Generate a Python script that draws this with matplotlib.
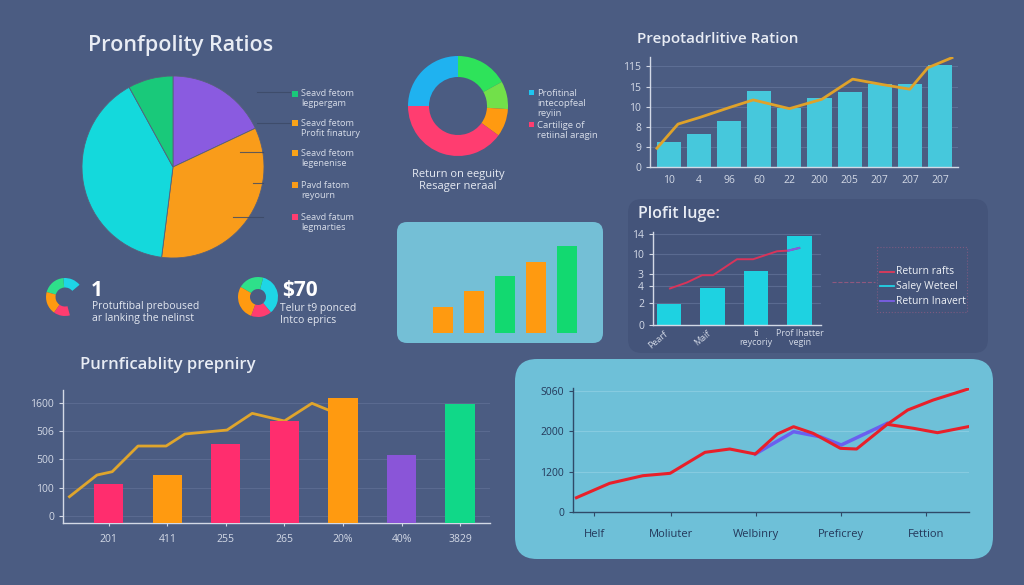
import matplotlib
matplotlib.use('Agg')
import matplotlib.pyplot as plt
from matplotlib.patches import FancyBboxPatch, Rectangle

plt.rcParams['font.family'] = ['Open Sans', 'DejaVu Sans']

W, H = 1024, 585
BG = '#4b5c82'
TXT = '#e8ecf4'
TICK = '#d3d9e6'

# ---------------- data ----------------
pie_values = [18, 34, 40, 8]
pie_colors = ['#8a5be0', '#f99c1a', '#14d9dc', '#19c97a']
pie_legend_labels = ['Seavd fetom\nlegpergam', 'Seavd fetom\nProfit finatury',
                     'Seavd fetom\nlegenenise', 'Pavd fatom\nreyourn', 'Seavd fatum\nlegmarties']
pie_legend_colors = ['#19c97a', '#f9a41a', '#f9a41a', '#f99c1a', '#ff3d70']

donut_values = [17, 9, 9, 40, 25]
donut_colors = ['#2ee35a', '#72e04a', '#ff9a10', '#ff3d70', '#1fb2f0']
donut_legend_labels = ['Profitinal\nintecopfeal\nreyiin', 'Cartilige of\nretiinal aragin']
donut_legend_colors = ['#1fc6f0', '#ff3d70']

ratio_labels = ['10', '4', '96', '60', '22', '200', '205', '207', '207', '207']
ratio_bars = [3.7, 4.9, 6.8, 11.4, 8.8, 10.35, 11.2, 12.4, 12.3, 15.2]
ratio_line_x = [-0.4, 0.3, 1.03, 2.03, 2.8, 4.0, 5.08, 6.1, 7.08, 8.0, 8.6, 9.4]
ratio_line_y = [2.8, 6.4, 7.4, 8.9, 10.0, 8.7, 10.1, 13.1, 12.3, 11.6, 14.8, 16.3]
ratio_yticks = [0, 3, 6, 9, 12, 15]
ratio_yticklabels = ['0', '9', '8', '10', '15', '115']

profit_labels = ['Pearf', 'Maif', 'ti\nreycoriy', 'Prof lhatter\nvegin']
profit_bars = [3.1, 5.6, 8.1, 13.4]
profit_line_x = [0.02, 0.41, 0.76, 1.01, 1.56, 1.93, 2.48, 2.74, 2.99]
profit_line_y = [5.5, 6.4, 7.5, 7.5, 9.9, 9.9, 11.1, 11.2, 11.6]
profit_yticks = [0, 3.3, 5.9, 7.7, 10.7, 13.7]
profit_yticklabels = ['0', '2', '4', '3', '10', '14']
profit_legend_labels = ['Return rafts', 'Saley Weteel', 'Return Inavert']
profit_legend_colors = ['#e03a5a', '#22d3e6', '#7b5ee6']

mini_values = [26, 42, 57, 71, 87]
mini_colors = ['#ff9a10', '#ff9a10', '#12d970', '#ff9a10', '#12d970']

purn_labels = ['201', '411', '255', '265', '20%', '40%', '3829']
purn_bars = [551, 678, 1117, 1442, 1767, 961, 1682]
purn_colors = ['#ff2d6e', '#ff9a10', '#ff2d6e', '#ff2d6e', '#ff9a10', '#8a55d8', '#10d888']
purn_line_x = [-0.67, -0.2, 0.06, 0.5, 0.98, 1.3, 2.02, 2.45, 3.0, 3.47, 3.78]
purn_line_y = [372, 678, 725, 1088, 1088, 1258, 1314, 1550, 1442, 1692, 1587]
purn_yticks = [100, 500, 900, 1300, 1700]
purn_yticklabels = ['0', '100', '500', '506', '1600']

trend_labels = ['Helf', 'Moliuter', 'Welbinry', 'Preficrey', 'Fettion']
trend_x = [-0.11, 0.28, 0.67, 0.99, 1.4, 1.69, 1.99, 2.25, 2.44, 2.67, 2.99, 3.18, 3.54, 3.78, 4.08, 4.49]
trend_a = [426, 854, 1081, 1152, 1777, 1876, 1727, 2323, 2541, 2343, 1896, 1876, 2611, 3037, 3335, 3663]
trend_b_x = [3.54, 3.85, 4.13, 4.49]
trend_b = [2611, 2492, 2362, 2541]
trend_c_x = [1.99, 2.44, 2.75, 3.0, 3.54]
trend_c = [1727, 2392, 2243, 1996, 2641]
trend_yticks = [0, 1200, 2400, 3600]
trend_yticklabels = ['0', '1200', '2000', 'S060']

kpi1_values = [55, 70, 70, 50, 115]
kpi1_colors = ['#1ed6e6', '#2ee08a', '#ff9a10', '#ff3d70', 'none']
kpi2_values = [125, 75, 100, 60]
kpi2_colors = ['#1ed6e6', '#2ee08a', '#ff9a10', '#ff3d70']

# ---------------- figure ----------------
fig = plt.figure(figsize=(W / 100, H / 100), dpi=100, facecolor=BG)


def box(x0, y0, x1, y1):
    return [x0 / W, 1 - y1 / H, (x1 - x0) / W, (y1 - y0) / H]


bg = fig.add_axes([0, 0, 1, 1], zorder=0)
bg.set_xlim(0, W); bg.set_ylim(H, 0); bg.axis('off')
ov = fig.add_axes([0, 0, 1, 1], zorder=10)
ov.set_xlim(0, W); ov.set_ylim(H, 0); ov.axis('off'); ov.patch.set_visible(False)


def panel(x0, y0, x1, y1, r, color):
    bg.add_patch(FancyBboxPatch((x0 + r, y0 + r), (x1 - x0) - 2 * r, (y1 - y0) - 2 * r,
                                boxstyle=f'round,pad={r}', fc=color, ec='none'))


def lines_text(x, y, label, step, **kw):
    for k, line in enumerate(label.split('\n')):
        ov.text(x, y + k * step, line, va='center', **kw)


panel(628, 199, 988, 353, 14, '#44547a')
panel(397, 222, 603, 343, 10, '#74bfd6')
panel(515, 359, 993, 559, 22, '#6ec0d8')


def style_dark(ax, color=TICK):
    ax.patch.set_visible(False)
    for s in ['top', 'right']:
        ax.spines[s].set_visible(False)
    for s in ['left', 'bottom']:
        ax.spines[s].set_color(color)
        ax.spines[s].set_linewidth(1.0)
    ax.tick_params(colors=color, labelsize=7.5, length=3, width=0.8)


# ---- big pie ----
ax = fig.add_axes(box(82, 76, 264, 258), zorder=2)
ax.pie(pie_values, colors=pie_colors, startangle=90, counterclock=False,
       wedgeprops=dict(linewidth=0.6, edgecolor='#56607c'))
ax.set_xlim(-1, 1); ax.set_ylim(-1, 1); ax.set_aspect('equal')
ov.text(88, 46, 'Pronfpolity Ratios', color=TXT, fontsize=15.5, fontweight='semibold', va='center')
for (xa, xb, y) in [(257, 290, 92), (257, 290, 123), (240, 263, 152), (253, 263, 183), (233, 263, 217)]:
    ov.plot([xa, xb], [y, y], color='#3b4866', lw=0.8, alpha=0.8)
for i, (lab, c) in enumerate(zip(pie_legend_labels, pie_legend_colors)):
    y = [94, 123, 153, 185, 217][i]
    ov.add_patch(Rectangle((292, y - 3), 6, 6, fc=c, ec='none'))
    lines_text(301, y, lab, 10, color='#d7dce8', fontsize=6.6)

# ---- donut ----
ax = fig.add_axes(box(408, 56, 508, 156), zorder=2)
ax.pie(donut_values, colors=donut_colors, startangle=90, counterclock=False,
       wedgeprops=dict(width=0.42, linewidth=0))
ax.set_xlim(-1, 1); ax.set_ylim(-1, 1); ax.set_aspect('equal')
for i, (lab, c) in enumerate(zip(donut_legend_labels, donut_legend_colors)):
    y = [93, 125][i]
    ov.add_patch(Rectangle((529, y - 3), 5, 5, fc=c, ec='none'))
    lines_text(537, y, lab, 10.5, color='#d7dce8', fontsize=6.8)
ov.text(458, 175, 'Return on eeguity', color='#e6eaf2', fontsize=8, ha='center', va='center')
ov.text(458, 186, 'Resager neraal', color='#e6eaf2', fontsize=8, ha='center', va='center')

# ---- Prepotadrlitive Ration ----
ov.text(637, 39, 'Prepotadrlitive Ration', color=TXT, fontsize=11, fontweight='semibold', va='center')
ax = fig.add_axes(box(650, 57, 958, 167), zorder=2)
style_dark(ax)
xs = list(range(len(ratio_bars)))
ax.bar(xs, ratio_bars, width=0.8, color='#46c8dc', zorder=2)
ax.plot(ratio_line_x, ratio_line_y, color='#dfa22a', lw=2, zorder=3)
ax.set_xlim(-0.63, 9.6); ax.set_ylim(0, 16.4)
ax.set_yticks(ratio_yticks); ax.set_yticklabels(ratio_yticklabels)
ax.set_xticks(xs); ax.set_xticklabels(ratio_labels)
ax.tick_params(axis='x', length=0, pad=6)
ax.grid(axis='y', color='#5d6e94', lw=0.8, zorder=0)

# ---- Plofit luge ----
ov.text(638, 214, 'Plofit luge:', color=TXT, fontsize=11.5, fontweight='semibold', va='center')
ax = fig.add_axes(box(653, 232, 821, 325), zorder=2)
style_dark(ax)
xs = list(range(len(profit_bars)))
ax.bar(xs, profit_bars, width=0.56, color='#1ed2e1', zorder=2)
ax.plot(profit_line_x, profit_line_y, color='#d8345a', lw=1.4, zorder=3)
ax.plot(profit_line_x[-2:], profit_line_y[-2:], color='#7b5ee6', lw=1.4, zorder=4)
ax.set_xlim(-0.37, 3.49); ax.set_ylim(0, 14)
ax.set_yticks(profit_yticks); ax.set_yticklabels(profit_yticklabels)
ax.set_xticks(xs); ax.set_xticklabels(profit_labels, fontsize=6.5, linespacing=1.0)
for i, t in enumerate(ax.get_xticklabels()):
    if i < 2:
        t.set_rotation(40); t.set_ha('right')
ax.tick_params(axis='x', length=0, pad=3)
ax.grid(axis='y', color='#5a6a90', lw=0.8, zorder=0)
ov.plot([832, 875], [282, 282], color='#b05a80', lw=0.8, ls='--', alpha=0.7)
ov.add_patch(Rectangle((877, 247), 90, 65, fc='none', ec='#7d5a80', lw=0.8, ls=':'))
for i, (lab, c) in enumerate(zip(profit_legend_labels, profit_legend_colors)):
    y = [272, 286, 301][i]
    ov.plot([880, 894], [y, y], color=c, lw=1.3)
    ov.text(896, y, lab, color='#eef1f6', fontsize=7.5, va='center')

# ---- mini bars ----
ax = fig.add_axes(box(412, 222, 598, 333), zorder=2)
ax.bar(range(len(mini_values)), mini_values, width=0.65, color=mini_colors)
ax.set_xlim(-1, 5); ax.set_ylim(0, 111); ax.axis('off')

# ---- KPIs ----
ax = fig.add_axes(box(46, 278, 84, 316), zorder=2)
ax.pie(kpi1_values, colors=kpi1_colors, startangle=40, counterclock=True,
       wedgeprops=dict(width=0.5, linewidth=0))
ax.set_xlim(-1, 1); ax.set_ylim(-1, 1); ax.set_aspect('equal')
ov.text(91, 290, '1', color='white', fontsize=15, fontweight='bold', va='center')
ov.text(92, 307, 'Protuftibal preboused', color='#e3e7f0', fontsize=7.5, va='center')
ov.text(92, 319, 'ar lanking the nelinst', color='#e3e7f0', fontsize=7.5, va='center')

ax = fig.add_axes(box(238, 277, 278, 317), zorder=2)
ax.pie(kpi2_values, colors=kpi2_colors, startangle=-50, counterclock=True,
       wedgeprops=dict(width=0.6, linewidth=0))
ax.set_xlim(-1, 1); ax.set_ylim(-1, 1); ax.set_aspect('equal')
ov.text(282, 290, '$70', color='white', fontsize=15, fontweight='bold', va='center')
ov.text(280, 309, 'Telur t9 ponced', color='#e3e7f0', fontsize=7.5, va='center')
ov.text(280, 320, 'Intco eprics', color='#e3e7f0', fontsize=7.5, va='center')

# ---- Purnficablity prepniry ----
ov.text(80, 365, 'Purnficablity prepniry', color=TXT, fontsize=12, fontweight='semibold', va='center')
ax = fig.add_axes(box(63, 390, 490, 523), zorder=2)
style_dark(ax)
xs = list(range(len(purn_bars)))
ax.bar(xs, purn_bars, width=0.5, color=purn_colors, zorder=3)
ax.plot(purn_line_x, purn_line_y, color='#dfa52c', lw=2, zorder=2)
ax.set_xlim(-0.78, 6.51); ax.set_ylim(0, 1880)
ax.set_yticks(purn_yticks); ax.set_yticklabels(purn_yticklabels)
ax.set_xticks(xs); ax.set_xticklabels(purn_labels)
ax.tick_params(axis='x', length=2, pad=6)
ax.grid(axis='y', color='#5a6a90', lw=0.8, zorder=0)

# ---- trend lines ----
ax = fig.add_axes(box(573, 388, 969, 512), zorder=2)
ax.patch.set_visible(False)
for s in ['top', 'right']:
    ax.spines[s].set_visible(False)
for s in ['left', 'bottom']:
    ax.spines[s].set_color('#2f4a68'); ax.spines[s].set_linewidth(1.0)
ax.tick_params(colors='#2f4a68', labelcolor='#24385a', labelsize=7.5, length=3)
ax.plot(trend_c_x, trend_c, color='#6a5ff0', lw=2.5, zorder=2)
ax.plot(trend_b_x, trend_b, color='#e8202a', lw=2.2, zorder=3)
ax.plot(trend_x, trend_a, color='#e8202a', lw=2.2, zorder=4)
ax.set_xlim(-0.15, 4.5); ax.set_ylim(0, 3693)
ax.set_yticks(trend_yticks); ax.set_yticklabels(trend_yticklabels)
ax.set_xticks([0.1, 1, 2, 3, 4]); ax.set_xticklabels(trend_labels, fontsize=8)
ax.tick_params(axis='x', pad=9)
ax.grid(axis='y', color='#86cbe0', lw=0.8, zorder=0)

fig.savefig('out.png', dpi=100, facecolor=BG)
